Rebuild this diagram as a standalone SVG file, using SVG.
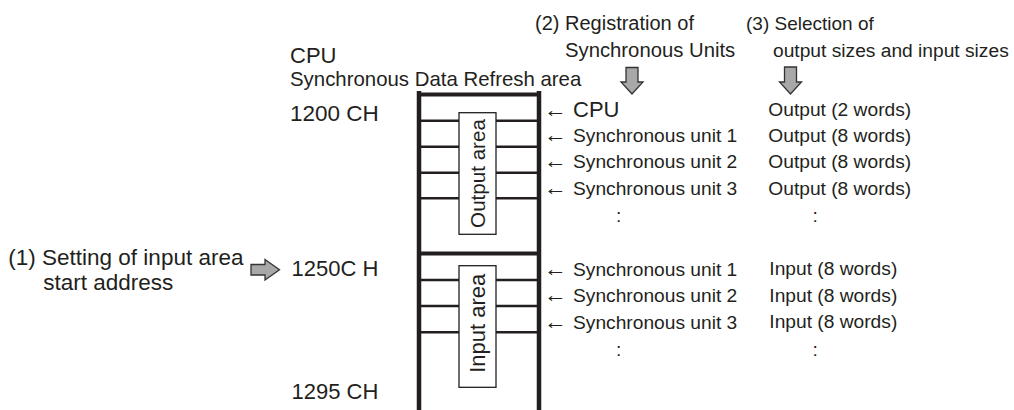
<svg xmlns="http://www.w3.org/2000/svg" width="1014" height="410" viewBox="0 0 1014 410">
<style>
text{font-family:"Liberation Sans",Arial,sans-serif;fill:#231f20}
.t19{font-size:19.2px}
.t20{font-size:20px}
.t22{font-size:22px}
.arr{font-size:21px}
.rail{stroke:#231f20;stroke-width:4.5;fill:none}
.sep{stroke:#231f20;stroke-width:4;fill:none}
.row{stroke:#231f20;stroke-width:2.6;fill:none}
.box{fill:#fff;stroke:#231f20;stroke-width:1.3}
.big{fill:#a8a8a8;stroke:#333;stroke-width:1.3;stroke-linejoin:miter}
</style>
<rect width="1014" height="410" fill="#fff"/>

<g id="area-title">
<text class="t22" x="290" y="63">CPU</text>
<text x="290" y="86" style="font-size:20.4px">Synchronous Data Refresh area</text>
</g>

<g id="addresses">
<text x="290" y="120.7" style="font-size:22.5px">1200 CH</text>
<text x="291.5" y="276" style="font-size:22px">1250C H</text>
<text x="291.5" y="399" style="font-size:22px">1295 CH</text>
</g>

<g id="refresh-area">
<line class="rail" x1="419" y1="91" x2="419" y2="410"/>
<line class="rail" x1="539" y1="91" x2="539" y2="410"/>
<line class="sep" x1="419" y1="94.5" x2="539" y2="94.5"/>
<line class="row" x1="419" y1="120.7" x2="539" y2="120.7"/>
<line class="row" x1="419" y1="146.7" x2="539" y2="146.7"/>
<line class="row" x1="419" y1="172.7" x2="539" y2="172.7"/>
<line class="row" x1="419" y1="198.3" x2="539" y2="198.3"/>
<line class="sep" x1="419" y1="253.5" x2="539" y2="253.5"/>
<line class="row" x1="419" y1="280" x2="539" y2="280"/>
<line class="row" x1="419" y1="306" x2="539" y2="306"/>
<line class="row" x1="419" y1="332.3" x2="539" y2="332.3"/>
</g>

<g id="output-area">
<rect class="box" x="459" y="112.7" width="37" height="121.6"/>
<text transform="translate(484.5,173.5) rotate(-90)" text-anchor="middle" style="font-size:20.6px">Output area</text>
</g>

<g id="input-area">
<rect class="box" x="459" y="265.7" width="37" height="121.6"/>
<text transform="translate(484.5,323.3) rotate(-90)" text-anchor="middle" style="font-size:22px">Input area</text>
</g>

<g id="step2-label">
<text class="t20" x="535" y="29.5">(2) Registration of</text>
<text x="565" y="56.5" style="font-size:20.3px">Synchronous Units</text>
</g>

<g id="step3-label">
<text x="746" y="29.5" style="font-size:19px">(3) Selection of</text>
<text class="t19" x="773" y="56.5">output sizes and input sizes</text>
</g>

<g id="step1-label">
<text x="8.3" y="265" style="font-size:22.5px">(1) Setting of input area</text>
<text x="43.3" y="290" style="font-size:22.5px">start address</text>
</g>

<g id="units-output">
<text class="arr" x="544" y="116.7" textLength="23" lengthAdjust="spacingAndGlyphs">←</text>
<text class="t22" x="573" y="116.7">CPU</text>
<text class="arr" x="544" y="141.7" textLength="23" lengthAdjust="spacingAndGlyphs">←</text>
<text class="t19" x="573" y="141.7">Synchronous unit 1</text>
<text class="arr" x="544" y="168.3" textLength="23" lengthAdjust="spacingAndGlyphs">←</text>
<text class="t19" x="573" y="168.3">Synchronous unit 2</text>
<text class="arr" x="544" y="195" textLength="23" lengthAdjust="spacingAndGlyphs">←</text>
<text class="t19" x="573" y="195">Synchronous unit 3</text>
<text class="t19" x="616" y="222">:</text>
</g>

<g id="units-input">
<text class="arr" x="544" y="275.7" textLength="23" lengthAdjust="spacingAndGlyphs">←</text>
<text class="t19" x="573" y="275.7">Synchronous unit 1</text>
<text class="arr" x="544" y="302.3" textLength="23" lengthAdjust="spacingAndGlyphs">←</text>
<text class="t19" x="573" y="302.3">Synchronous unit 2</text>
<text class="arr" x="544" y="329" textLength="23" lengthAdjust="spacingAndGlyphs">←</text>
<text class="t19" x="573" y="329">Synchronous unit 3</text>
<text class="t19" x="616" y="356">:</text>
</g>

<g id="sizes-output">
<text class="t19" x="768.3" y="116">Output (2 words)</text>
<text class="t19" x="768.3" y="142.3">Output (8 words)</text>
<text class="t19" x="768.3" y="168.3">Output (8 words)</text>
<text class="t19" x="768.3" y="195">Output (8 words)</text>
<text class="t19" x="812.5" y="222">:</text>
</g>

<g id="sizes-input">
<text class="t19" x="769.3" y="275">Input (8 words)</text>
<text class="t19" x="769.3" y="301.7">Input (8 words)</text>
<text class="t19" x="769.3" y="328.3">Input (8 words)</text>
<text class="t19" x="812.5" y="356">:</text>
</g>

<g id="connectors">
<path class="big" d="M626,67.5 H638 V82 H643 L632,94 L621,82 H626 Z"/>
<path class="big" d="M784.5,67 H796.5 V82 H801.5 L790.5,94 L779.5,82 H784.5 Z"/>
<path class="big" d="M251,264.5 H265 V259.5 L279.5,269.7 L265,280 V275 H251 Z"/>
</g>
</svg>
